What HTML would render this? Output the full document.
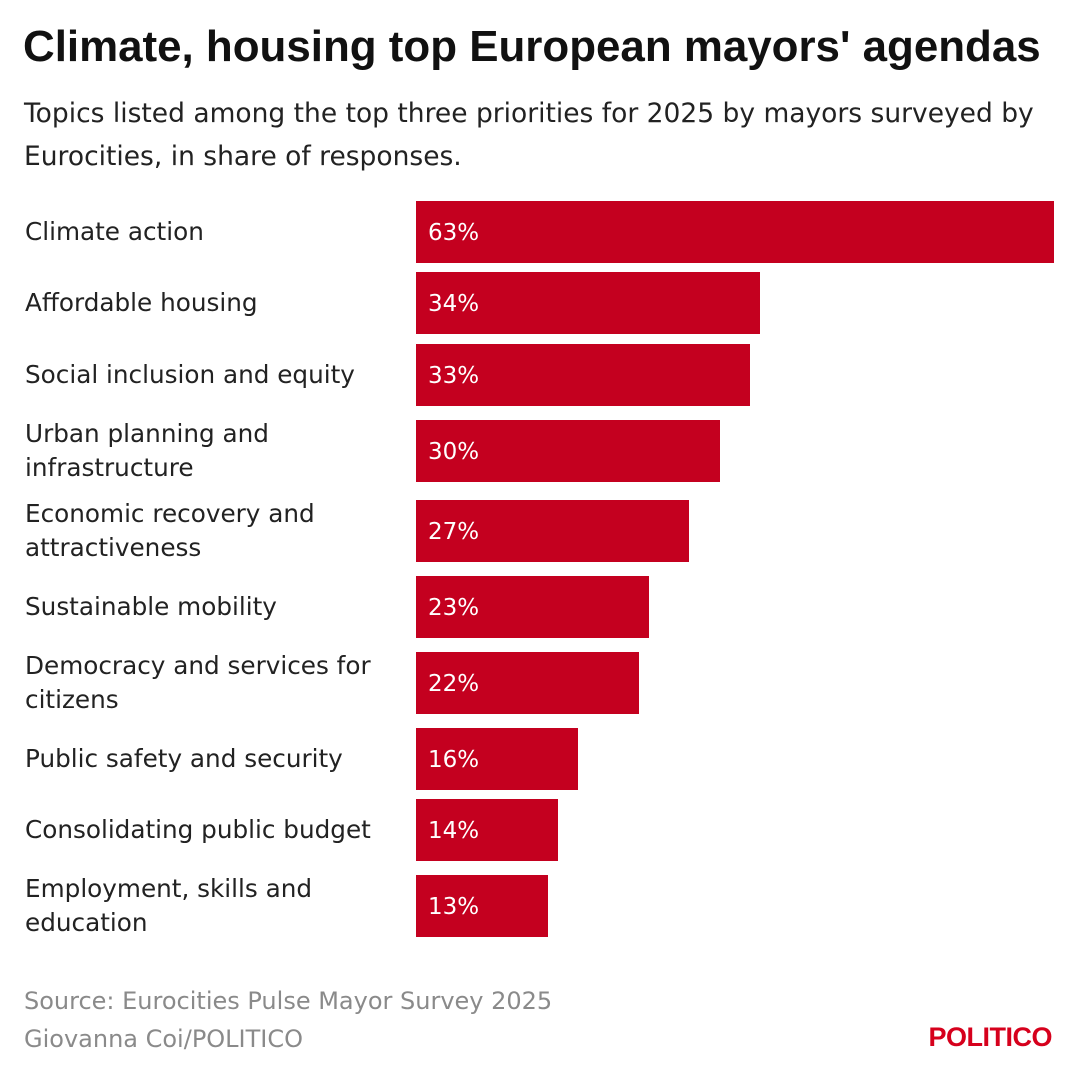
<!DOCTYPE html>
<html><head><meta charset="utf-8"><style>
body{margin:0;width:1080px;height:1080px;background:#fff;font-family:"DejaVu Sans","Liberation Sans",sans-serif;position:relative;overflow:hidden;color:#1a1a1a}
#title{position:absolute;left:23px;top:22px;font-family:"Liberation Sans",sans-serif;font-size:43.9px;font-weight:bold;color:#111;white-space:nowrap}
#sub{position:absolute;left:24px;top:92px;width:1045px;font-size:26.5px;line-height:43px;color:#222}
.lab{position:absolute;left:25px;font-size:24.7px;line-height:34px;color:#222;transform:translateY(-50%);white-space:nowrap}
.bar{position:absolute;left:416px;background:#c4001f}
.val{position:absolute;left:428px;font-size:23px;color:#fff;transform:translateY(-50%)}
.foot{position:absolute;left:24px;font-size:24px;color:#8a8a8a}
#logo{position:absolute;right:28px;top:1022px;font-family:"Liberation Sans",sans-serif;font-size:27px;font-weight:bold;color:#d6001c;letter-spacing:-0.5px}
</style></head><body>
<div id="title">Climate, housing top European mayors' agendas</div>
<div id="sub">Topics listed among the top three priorities for 2025 by mayors surveyed by Eurocities, in share of responses.</div>
<div id="chart"></div>
<div class="foot" style="top:987px">Source: Eurocities Pulse Mayor Survey 2025</div>
<div class="foot" style="top:1025px">Giovanna Coi/POLITICO</div>
<div id="logo">POLITICO</div>
<script>
const categories=["Climate action","Affordable housing","Social inclusion and equity","Urban planning and<br>infrastructure","Economic recovery and<br>attractiveness","Sustainable mobility","Democracy and services for<br>citizens","Public safety and security","Consolidating public budget","Employment, skills and<br>education"];
const values=[63,34,33,30,27,23,22,16,14,13];
const barTops=[201,272,344,420,500,576,652,728,799,875];
const x0=416,pxPer=638/63,barH=62;
const c=document.getElementById('chart');
categories.forEach((cat,i)=>{
  const cy=barTops[i]+barH/2;
  const l=document.createElement('div');l.className='lab';l.innerHTML=cat;l.style.top=cy+'px';
  
  
  c.appendChild(l);
  const b=document.createElement('div');b.className='bar';
  b.style.top=barTops[i]+'px';b.style.height=barH+'px';b.style.width=(values[i]*pxPer)+'px';
  
  
  c.appendChild(b);
  const v=document.createElement('div');v.className='val';v.textContent=values[i]+'%';v.style.top=(cy+1)+'px';
  
  
  c.appendChild(v);
});
</script>
</body></html>
